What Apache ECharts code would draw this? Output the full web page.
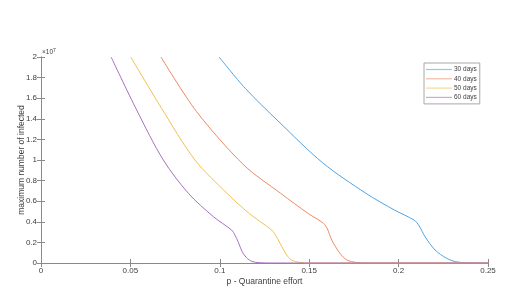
<!DOCTYPE html>
<html>
<head>
<meta charset="utf-8">
<script src="https://cdn.jsdelivr.net/npm/echarts@6/dist/echarts.min.js"></script>
<style>html,body{margin:0;padding:0;background:#fff}#c{width:510px;height:308px}</style>
</head>
<body>
<div id="c"></div>
<script>
// Values in units of 1e7 (axis shows "x10^7")
var seriesNames = ['30 days', '40 days', '50 days', '60 days'];
var xTicks = [0, 0.05, 0.1, 0.15, 0.2, 0.25];
var yTicks = [0, 0.2, 0.4, 0.6, 0.8, 1, 1.2, 1.4, 1.6, 1.8, 2];

var p30 = [0.0996, 0.1142, 0.1330, 0.1577, 0.1817, 0.1976, 0.2086, 0.2115, 0.2148, 0.2204, 0.2269, 0.232, 0.238, 0.245, 0.25];
var v30 = [2.0, 1.696, 1.372, 0.97, 0.677, 0.515, 0.417, 0.36, 0.255, 0.126, 0.045, 0.012, 0.002, 0, 0];

var p40 = [0.0671, 0.0870, 0.1135, 0.1340, 0.1495, 0.1580, 0.1602, 0.1626, 0.1672, 0.171, 0.1766, 0.185, 0.25];
var v40 = [2.0, 1.47, 0.95, 0.677, 0.48, 0.385, 0.33, 0.223, 0.094, 0.03, 0.005, 0, 0];

var p50 = [0.0502, 0.0675, 0.0861, 0.1040, 0.1165, 0.1290, 0.1315, 0.1337, 0.1374, 0.140, 0.1449, 0.15, 0.25];
var v50 = [2.0, 1.5, 1.0, 0.677, 0.48, 0.32, 0.26, 0.19, 0.078, 0.03, 0.005, 0, 0];

var p60 = [0.0392, 0.0535, 0.0684, 0.0824, 0.0964, 0.1066, 0.1085, 0.1104, 0.1125, 0.1150, 0.1180, 0.122, 0.13, 0.25];
var v60 = [2.0, 1.485, 1.0, 0.677, 0.45, 0.32, 0.27, 0.20, 0.11, 0.05, 0.015, 0.003, 0, 0];

var colors = ['#4fa3e3', '#ec8a62', '#f0c150', '#a871c0'];

function pairs(xs, ys) { return xs.map(function (x, i) { return [x, ys[i]]; }); }
var allData = [pairs(p30, v30), pairs(p40, v40), pairs(p50, v50), pairs(p60, v60)];

var font = 'Liberation Sans, Arial, Helvetica, sans-serif';
var txt = '#404040';
var axCol = '#8a8a8a';

function fmt(v) { return String(Math.round(v * 100) / 100); }

var chart = echarts.init(document.getElementById('c'), null, { renderer: 'canvas' });
chart.setOption({
  animation: false,
  backgroundColor: '#fff',
  textStyle: { fontFamily: font },
  grid: { left: 41, right: 22, top: 57, bottom: 45, containLabel: false },
  legend: {
    orient: 'vertical',
    left: 424, top: 63,
    padding: [2, 3, 2, 2],
    itemGap: 0.3,
    itemWidth: 26, itemHeight: 1.2,
    icon: 'rect',
    backgroundColor: '#fff',
    borderColor: '#a8a8a8', borderWidth: 1, borderRadius: 0,
    textStyle: { fontSize: 6.5, color: txt, fontFamily: font, padding: [0, 0, 0, -3], lineHeight: 9, height: 9 },
    data: seriesNames.map(function (n, i) { return { name: n, icon: 'rect', itemStyle: { color: colors[i], opacity: 0.6 } }; })
  },
  xAxis: [{
    type: 'value', min: 0, max: 0.25, interval: 0.05,
    name: 'p - Quarantine effort', nameLocation: 'middle', nameGap: 14, nameMoveOverlap: false,
    nameTextStyle: { fontSize: 8.5, color: txt, fontFamily: font },
    axisLine: { show: true, lineStyle: { color: axCol, width: 1 } },
    axisTick: { show: true, inside: true, length: 4, lineStyle: { color: axCol } },
    axisLabel: { fontSize: 8, color: txt, margin: 4, fontFamily: font, formatter: fmt },
    splitLine: { show: false }
  }, {
    type: 'value', min: 0, max: 0.25, interval: 0.05, position: 'top',
    axisLine: { show: true, lineStyle: { color: axCol, width: 1 } },
    axisTick: { show: true, inside: true, length: 4, lineStyle: { color: axCol } },
    axisLabel: { show: false }, splitLine: { show: false }
  }],
  yAxis: [{
    type: 'value', min: 0, max: 2, interval: 0.2,
    name: 'maximum number of infected', nameLocation: 'middle', nameGap: 15, nameMoveOverlap: false,
    nameTextStyle: { fontSize: 8.5, color: txt, fontFamily: font },
    axisLine: { show: true, lineStyle: { color: axCol, width: 1 } },
    axisTick: { show: true, inside: true, length: 4, lineStyle: { color: axCol } },
    axisLabel: { fontSize: 8, color: txt, margin: 4, fontFamily: font, formatter: fmt },
    splitLine: { show: false }
  }, {
    type: 'value', min: 0, max: 2, interval: 0.2, position: 'right',
    axisLine: { show: true, lineStyle: { color: axCol, width: 1 } },
    axisTick: { show: true, inside: true, length: 4, lineStyle: { color: axCol } },
    axisLabel: { show: false }, splitLine: { show: false }
  }],
  graphic: [{
    type: 'text', left: 42, top: 48,
    style: {
      text: '×10{s|7}', fill: txt, font: '6.5px ' + font,
      rich: { s: { fontSize: 5, verticalAlign: 'top', fill: txt, padding: [0, 0, 4, 0] } }
    }
  }],
  series: allData.map(function (d, i) {
    return {
      name: seriesNames[i], type: 'line', data: d,
      xAxisIndex: 0, yAxisIndex: 0,
      showSymbol: false, symbol: 'none', smooth: 0.3,
      color: colors[i],
      lineStyle: { color: colors[i], width: 1 },
      clip: true
    };
  })
});
</script>
</body>
</html>
